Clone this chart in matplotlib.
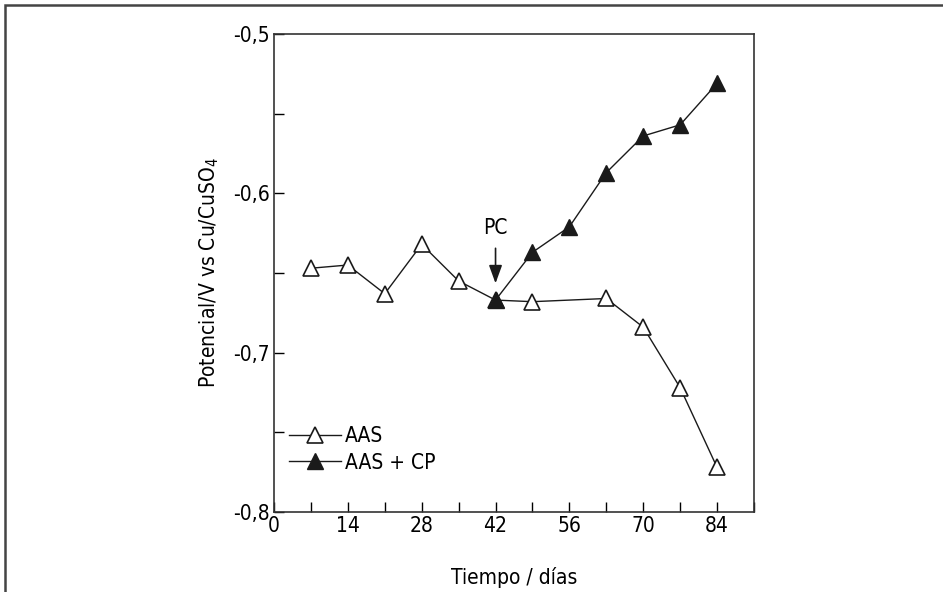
import matplotlib.pyplot as plt
from matplotlib.ticker import MultipleLocator, FuncFormatter
from matplotlib.patches import Rectangle

# Datos
dias_aas = [7, 14, 21, 28, 35, 42, 49, 63, 70, 77, 84]
pot_aas = [-0.647, -0.645, -0.663, -0.632, -0.655, -0.667, -0.668, -0.666, -0.684, -0.722, -0.772]

dias_cp = [42, 49, 56, 63, 70, 77, 84]
pot_cp = [-0.667, -0.637, -0.621, -0.587, -0.564, -0.557, -0.531]

plt.rcParams['font.family'] = ['DejaVu Sans']
plt.rcParams['font.stretch'] = 'condensed'
plt.rcParams['mathtext.fontset'] = 'dejavusans'

fig = plt.figure(figsize=(9.43, 5.92), dpi=100)
ax = fig.add_axes([274 / 943, 80 / 592, 480 / 943, 478 / 592])

ax.plot(dias_aas, pot_aas, marker='^', color='#1a1a1a', markerfacecolor='white',
        markeredgecolor='#1a1a1a', markersize=11, markeredgewidth=1.2, linewidth=1.0,
        label='AAS', zorder=2)
ax.plot(dias_cp, pot_cp, marker='^', color='#1a1a1a', markerfacecolor='#1a1a1a',
        markersize=11, linewidth=1.0, label='AAS + CP', zorder=3)

# flecha PC
ax.annotate('', xy=(42, -0.6565), xytext=(42, -0.6345),
            arrowprops=dict(arrowstyle='-|>,head_length=1.1,head_width=0.4',
                            color='#1a1a1a', lw=1.2, shrinkA=0, shrinkB=0))
ax.text(42, -0.6215, 'PC', ha='center', va='center', fontsize=15)

ax.set_xlim(0, 91)
ax.set_ylim(-0.8, -0.5)
ax.xaxis.set_major_locator(MultipleLocator(14))
ax.xaxis.set_minor_locator(MultipleLocator(7))
ax.yaxis.set_major_locator(MultipleLocator(0.1))
ax.yaxis.set_minor_locator(MultipleLocator(0.05))
ax.yaxis.set_major_formatter(FuncFormatter(lambda v, p: f'{v:.1f}'.replace('.', ',')))

ax.tick_params(which='both', direction='in', length=7, width=1.0, labelsize=15,
               top=False, right=False)
ax.tick_params(axis='x', pad=3)
ax.tick_params(axis='y', pad=3)
for s in ax.spines.values():
    s.set_linewidth(1.2)
    s.set_color('#333333')

ax.set_xlabel('Tiempo / días', fontsize=15, labelpad=22)
ax.set_ylabel('Potencial/V vs Cu/CuSO$_4$', fontsize=15, labelpad=9)

ax.legend(loc='lower left', bbox_to_anchor=(0.0, 0.052), frameon=False, fontsize=15,
          handlelength=2.5, handletextpad=0.2, labelspacing=0.3, borderaxespad=0.3)

# marco exterior (solo se ven los bordes superior e izquierdo)
fig.patches.append(Rectangle((5 / 943, -0.1), 1.2, 1.1 - 5 / 592,
                             transform=fig.transFigure, fill=False,
                             edgecolor='#444444', linewidth=1.8))

fig.savefig('out.png', dpi=100)
